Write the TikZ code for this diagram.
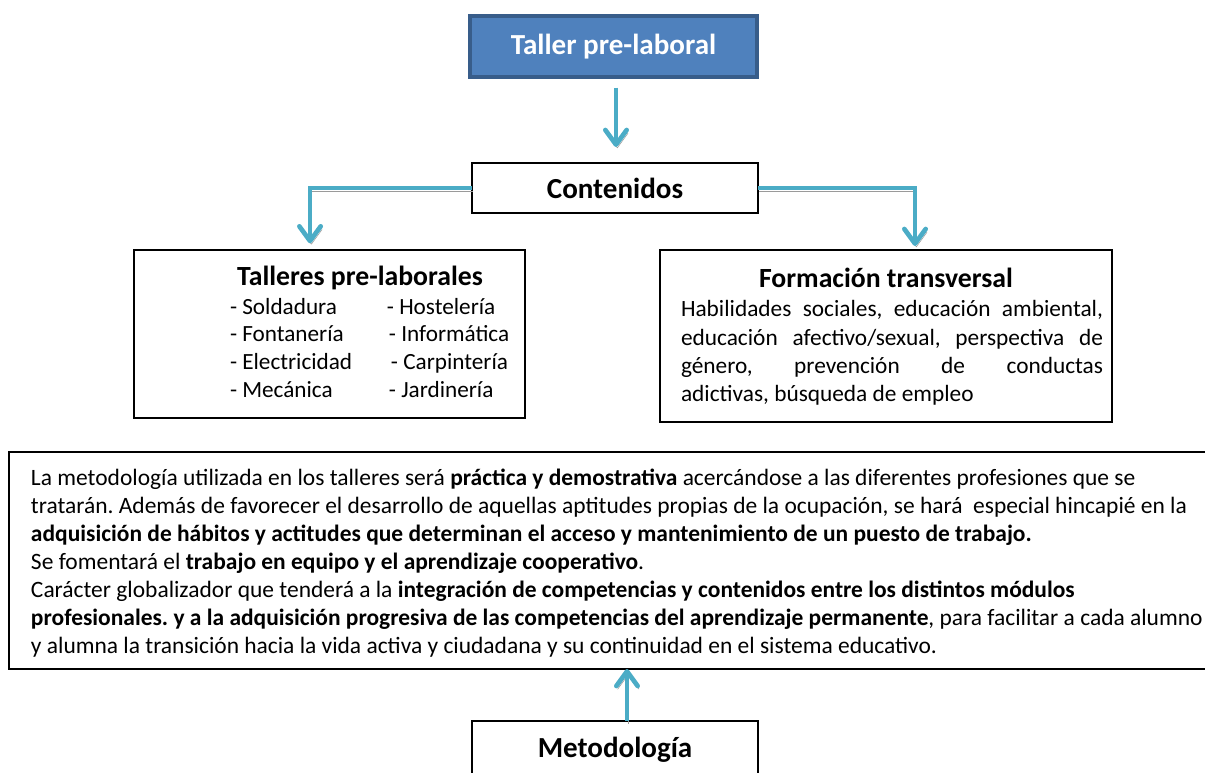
\documentclass[tikz,border=0pt]{standalone}
\usepackage{fontspec}
\setmainfont{Carlito}
\usetikzlibrary{arrows.meta,calc}
\frenchspacing

\definecolor{tpfill}{HTML}{4F81BD}
\definecolor{tpline}{HTML}{385D8A}
\definecolor{flowcol}{HTML}{4BACC6}
\definecolor{shadowcol}{HTML}{9A9A9A}

\newcommand{\headfont}{\bfseries\fontsize{21.8}{26}\selectfont}
\newcommand{\titlefont}{\bfseries\fontsize{20.8}{24}\selectfont}
\newcommand{\listfont}{\fontsize{17.4}{20.8}\selectfont}
\newcommand{\boxfont}{\fontsize{17.5}{21.2}\selectfont}
\newcommand{\bodyfont}{\fontsize{17.6}{21}\selectfont}

\tikzset{
  box/.style={draw=black,line width=1.1pt,inner sep=0pt,outer sep=0pt,
    minimum width=214.5pt},
  flow/.style={draw=flowcol,line width=3.5pt,
    -{Straight Barb[length=11pt,width=16pt,round]},
    preaction={draw=shadowcol,transform canvas={shift={(1pt,-2.4pt)}}}},
  txt/.style={inner sep=0pt,outer sep=0pt},
}

\begin{document}
\begin{tikzpicture}[x=0.75pt,y=-0.75pt]
\useasboundingbox (0,0) rectangle (1205,773);
\clip (0,0) rectangle (1205,773);

% boxes
\node[box,fill=tpfill,draw=tpline,line width=3pt,minimum width=215pt,
  minimum height=45.75pt,text=white,font=\headfont] (tp) at (613.5,46.5) {Taller pre-laboral};
\node[box,minimum height=37.5pt,font=\headfont] (cont) at (615,188) {Contenidos};
\node[box,minimum width=293.25pt,minimum height=126pt] (tall) at (329.5,334) {};
\node[box,minimum width=339pt,minimum height=129pt] (form) at (886,336) {};
\node[box,minimum width=904.5pt,minimum height=162.75pt] (big) at (612,560.5) {};
\node[box,minimum height=43pt,font=\headfont] (met) at (615,749.7) {Metodología};

% talleres
\node[txt,anchor=base,font=\titlefont] (talltitle) at (360,286) {Talleres pre-laborales};
\node[txt,anchor=north west,font=\listfont] (talllist) at (230,294.6) {%
\begin{tabular}{@{}p{117.75pt}@{}l@{}}
- Soldadura & - Hostelería\\
- Fontanería & \hspace{1.5pt}- Informática\\
- Electricidad & \hspace{3pt}- Carpintería\\
- Mecánica & \hspace{1.5pt}- Jardinería
\end{tabular}};

% formacion
\node[txt,anchor=base,font=\titlefont] (formtitle) at (886,287) {Formación transversal};
\node[txt,anchor=north west,font=\boxfont,text width=316.5pt,align=justify] (formtext) at (681,297)
  {\strut Habilidades sociales, educación ambiental,\linebreak educación afectivo/sexual, perspectiva de\linebreak
   género, prevención de conductas\linebreak adictivas, búsqueda de empleo};

% metodologia
\node[txt,anchor=north west,font=\bodyfont,align=left] (bigtext) at (31,465.4) {%
\strut La metodología utilizada en los talleres será \textbf{práctica y demostrativa} acercándose a las diferentes profesiones que se\\
tratarán. Además de favorecer el desarrollo de aquellas aptitudes propias de la ocupación, se hará~ especial hincapié en la\\
\textbf{adquisición de hábitos y actitudes que determinan el acceso y mantenimiento de un puesto de trabajo.}\\
Se fomentará el \textbf{trabajo en equipo y el aprendizaje cooperativo}.\\
Carácter globalizador que tenderá a la \textbf{integración de competencias y contenidos entre los distintos módulos}\\
\textbf{profesionales. y a la adquisición progresiva de las competencias del aprendizaje permanente}, para facilitar a cada alumno\\
y alumna la transición hacia la vida activa y ciudadana y su continuidad en el sistema educativo.};

% arrows
\draw[flow,shorten <=8pt,shorten >=12pt] ([xshift=0.75pt]cont.north |- tp.south) -- ([xshift=0.75pt]cont.north);
\draw[flow,shorten >=5pt] (cont.west) -| ([xshift=-14.6pt]tall.north);
\draw[flow,shorten >=3pt] (cont.east) -| ([xshift=21.75pt]form.north);
\draw[flow] ([xshift=9pt]met.north) -- ([xshift=9pt]met.north |- big.south);

\end{tikzpicture}
\end{document}
